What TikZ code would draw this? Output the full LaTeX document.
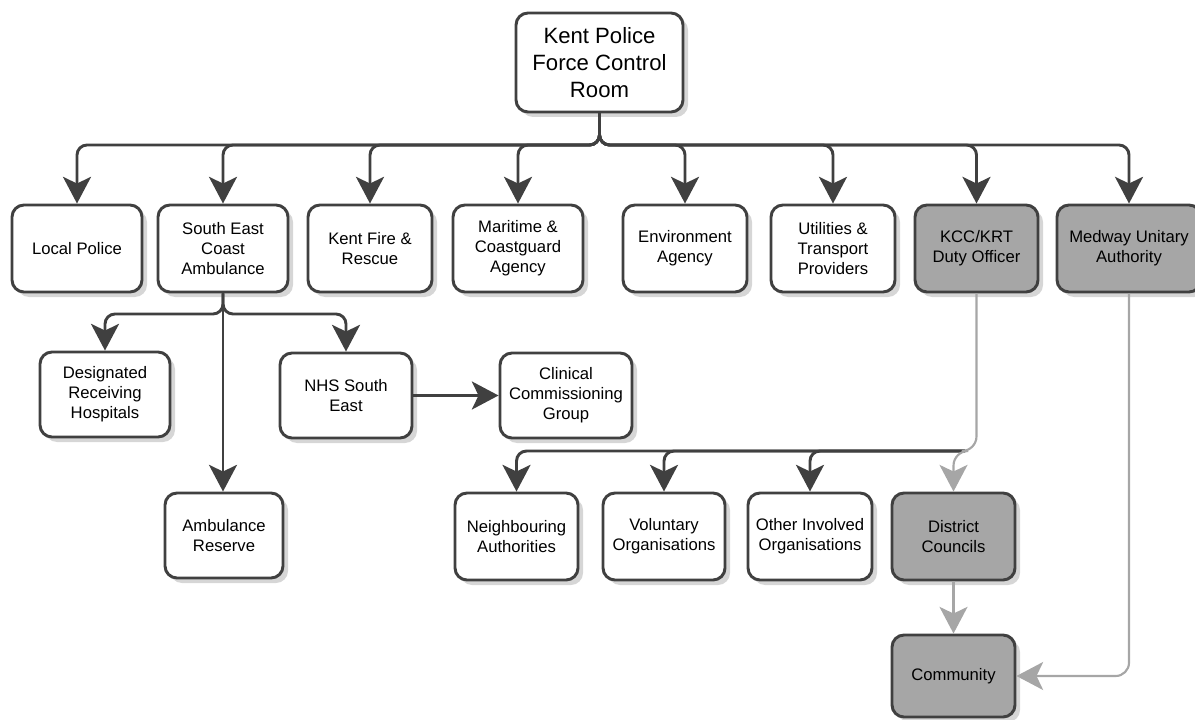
\documentclass[tikz,border=0pt]{standalone}
\usepackage{fontspec}
\setmainfont{Liberation Sans}
\usetikzlibrary{arrows.meta,shadows,calc}
\definecolor{dk}{HTML}{404040}
\definecolor{gfill}{HTML}{A6A6A6}
\definecolor{gline}{HTML}{A6A6A6}
\definecolor{shd}{HTML}{D6D6D6}
\begin{document}
\begin{tikzpicture}[x=0.75pt,y=-0.75pt,
  box/.style={draw=dk, fill=white, line width=2.2pt, rounded corners=9pt,
    align=center, inner sep=0pt, font=\fontsize{12.5}{15}\selectfont,
    drop shadow={shadow xshift=3.75pt, shadow yshift=-3.75pt, fill=shd, opacity=1}},
  gbox/.style={box, fill=gfill},
  conn/.style={draw=dk, line width=2.2pt, rounded corners=7.5pt,
    -{Stealth[length=20pt, width=21pt, inset=5pt]}},
  gconn/.style={draw=gline, line width=1.6pt, rounded corners=8pt,
    -{Stealth[length=20pt, width=21pt, inset=5pt]}},
  bw/.style 2 args={minimum width=#1*0.75pt, minimum height=#2*0.75pt}
]
\useasboundingbox (0,0) rectangle (1195,720);

% nodes
\node[box, bw={167}{99}, font=\fontsize{16.6}{20}\selectfont] (kent) at (599.5,62.5) {Kent Police\\Force Control\\Room};
\node[box, bw={130}{87}] (lp) at (77,248.5) {Local Police};
\node[box, bw={130}{87}] (seca) at (223,248.5) {South East\\Coast\\Ambulance};
\node[box, bw={124}{87}] (kfr) at (370,248.5) {Kent Fire \&\\Rescue};
\node[box, bw={130}{87}] (mca) at (518,248.5) {Maritime \&\\Coastguard\\Agency};
\node[box, bw={124}{87}] (ea) at (685,248.5) {Environment\\Agency};
\node[box, bw={124}{87}] (utp) at (833,248.5) {Utilities \&\\Transport\\Providers};
\node[gbox, bw={123}{87}] (kcc) at (976.5,248.5) {KCC/KRT\\Duty Officer};
\node[gbox, bw={144}{87}] (mua) at (1129,248.5) {Medway Unitary\\Authority};

\node[box, bw={130}{85}] (drh) at (105,394.5) {Designated\\Receiving\\Hospitals};
\node[box, bw={132}{85}] (nhs) at (346,395.5) {NHS South\\East};
\node[box, bw={132}{85}] (ccg) at (566,395.5) {Clinical\\Commissioning\\Group};
\node[box, bw={118}{85}] (ar) at (224,535.5) {Ambulance\\Reserve};

\node[box, bw={123}{87}] (nei) at (516.5,536.5) {Neighbouring\\Authorities};
\node[box, bw={122}{87}] (vol) at (664,536.5) {Voluntary\\Organisations};
\node[box, bw={124}{87}] (oth) at (810,536.5) {Other Involved\\Organisations};
\node[gbox, bw={123}{87}] (dc) at (953.5,536.5) {District\\Councils};
\node[gbox, bw={123}{82}] (com) at (953.5,676) {Community};

% bus coordinates
\coordinate (bus) at (0,145);
\coordinate (bus2) at (0,314);
\coordinate (kj) at (965,451);

% top level
\foreach \t in {lp,seca,kfr,mca,ea,utp,kcc,mua}{
  \draw[conn] (kent.south) -- (kent.south |- bus) -- (\t.north |- bus) -- (\t.north);
}

% ambulance branch
\draw[conn] (seca.south) -- (seca.south |- bus2) -- (drh.north |- bus2) -- (drh.north);
\draw[conn] (seca.south) -- (seca.south |- bus2) -- (nhs.north |- bus2) -- (nhs.north);
\draw[conn] (seca.south) -- (seca.south |- ar.north);
\draw[conn] (nhs.east) -- (ccg.west);

% KCC branch
\foreach \t in {nei,vol,oth}{
  \draw[conn] (kj) -- (\t.north |- kj) -- (\t.north);
}
\draw[gconn, rounded corners=11pt] (kcc.south) -- (kcc.south |- kj) -- (dc.north |- kj) -- (dc.north);
\draw[gconn] (dc.south) -- (com.north);
\draw[gconn, rounded corners=10pt] (mua.south) -- (mua.south |- com.east) -- (com.east);
\end{tikzpicture}
\end{document}
